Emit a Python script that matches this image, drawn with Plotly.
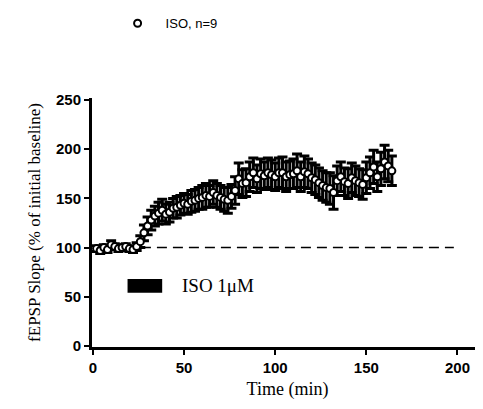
import plotly.graph_objects as go

time_min = list(range(2, 166, 2))
slope_pct = [99, 97, 100, 98, 103, 101, 99, 100, 101, 99, 98, 101, 106, 115, 122, 128, 132, 135, 138, 134,
             136, 140, 141, 143, 145, 144, 147, 148, 150, 151, 153, 152, 156, 153, 151, 149, 148, 152, 158, 170,
             165, 166, 172, 176, 170, 175, 173, 176, 174, 172, 176, 176, 172, 174, 175, 178, 172, 177, 175, 171,
             169, 166, 163, 161, 160, 156, 168, 172, 167, 165, 171, 168, 166, 164, 171, 176, 182, 172, 180, 187,
             183, 178]
sem_pct = [3, 3, 3, 3, 4, 3, 3, 3, 3, 3, 3, 4, 6, 8, 9, 10, 10, 11, 11, 10,
           10, 10, 11, 10, 10, 10, 11, 11, 11, 12, 12, 11, 12, 12, 12, 12, 13, 12, 14, 16,
           14, 14, 15, 15, 14, 15, 14, 15, 15, 14, 15, 16, 15, 14, 15, 17, 15, 16, 15, 15,
           15, 15, 15, 15, 16, 17, 15, 15, 14, 15, 15, 15, 14, 15, 16, 16, 17, 15, 17, 17,
           16, 15]

x_ticks = [0, 50, 100, 150, 200]
y_ticks = [0, 50, 100, 150, 200, 250]

fig = go.Figure()
fig.add_trace(go.Scatter(
    x=time_min, y=slope_pct, mode="markers", name="ISO, n=9",
    marker=dict(symbol="circle", size=7, color="white", line=dict(color="black", width=2)),
    error_y=dict(type="data", array=sem_pct, color="black", thickness=3, width=5),
))

fig.add_shape(type="line", x0=0, x1=198, y0=100, y1=100, layer="below",
              line=dict(color="black", width=1.5, dash="10px,6px"))
fig.add_shape(type="rect", x0=19, x1=38, y0=54, y1=68, fillcolor="black", line=dict(width=0))
fig.add_annotation(x=48, y=61, text="ISO 1\u03bcM", showarrow=False, xanchor="left",
                   font=dict(family="Liberation Serif", size=19, color="black"))

fig.update_layout(
    width=475, height=401,
    margin=dict(l=84, r=0, t=90, b=62),
    paper_bgcolor="white", plot_bgcolor="white",
    showlegend=True,
    legend=dict(x=0.045, y=1.30, xanchor="left", yanchor="middle", bgcolor="rgba(0,0,0,0)",
                itemwidth=46,
                font=dict(family="Liberation Sans", size=13, color="black")),
    xaxis=dict(range=[-0.5, 214], tickvals=x_ticks, ticks="outside", ticklen=5, tickwidth=2,
               tickcolor="black", showline=True, linecolor="black", linewidth=3, showgrid=False,
               zeroline=False,
               tickfont=dict(family="Liberation Sans", size=15, color="black", weight="bold"),
               title=dict(text="Time (min)", font=dict(family="Liberation Serif", size=18, color="black"),
                          standoff=8)),
    yaxis=dict(range=[-1, 252], tickvals=y_ticks, ticks="outside", ticklen=5, tickwidth=2,
               tickcolor="black", showline=True, linecolor="black", linewidth=3, showgrid=False,
               zeroline=False,
               tickfont=dict(family="Liberation Sans", size=15, color="black", weight="bold"),
               title=dict(text="fEPSP Slope (% of initial baseline)",
                          font=dict(family="Liberation Serif", size=17, color="black"), standoff=12)),
)

fig.write_html("out.html")
